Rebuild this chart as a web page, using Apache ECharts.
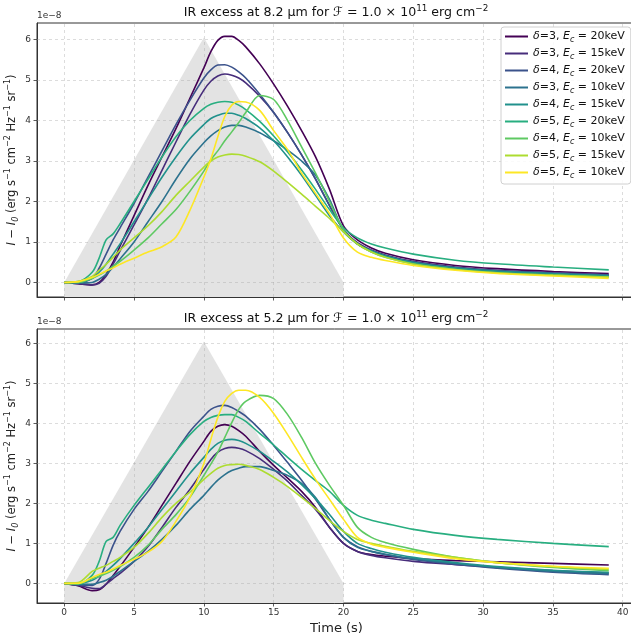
<!DOCTYPE html>
<html><head><meta charset="utf-8">
<script src="https://cdn.jsdelivr.net/npm/echarts@6/dist/echarts.min.js"></script>
<style>html,body{margin:0;padding:0;background:#fff}#c{width:631px;height:637px}</style>
</head><body><div id="c"></div>
<script>
// ---------- data ----------
const T = [0,1,2,2.5,3,3.5,4,5,6,7,8,9,10,10.5,11,11.5,12,12.5,13,14,15,16,17,18,19,20,21,22,23,25,28,31,35,39];
const deltas = [3,3,4,3,4,5,4,5,5];
const cutoffs = [20,15,20,10,15,20,10,15,10];
const xTicks = [0,5,10,15,20,25,30,35,40];
const yTicks = [0,1,2,3,4,5,6];
const triX = [0,10,20];
const triY = [0,6.05,0];

// 8.2 um (units of 1e-8)
const ir82_d3e20 = [0,-0.03,-0.06,0.0,0.2,0.5,0.9,1.65,2.4,3.1,3.8,4.55,5.3,5.7,5.98,6.08,6.08,5.98,5.82,5.4,4.9,4.35,3.75,3.1,2.3,1.4,1.05,0.85,0.72,0.56,0.42,0.34,0.27,0.22];
const ir82_d3e15 = [0,-0.03,-0.06,-0.02,0.15,0.45,0.78,1.42,2.07,2.77,3.47,4.15,4.75,4.97,5.1,5.15,5.12,5.05,4.93,4.6,4.2,3.7,3.15,2.55,1.9,1.3,0.98,0.8,0.68,0.52,0.38,0.3,0.24,0.19];
const ir82_d4e20 = [0,0.0,0.1,0.35,0.7,1.05,1.35,1.95,2.6,3.25,3.9,4.5,5.05,5.25,5.37,5.38,5.32,5.2,5.05,4.65,4.2,3.7,3.15,2.55,1.9,1.3,0.95,0.78,0.65,0.5,0.36,0.29,0.23,0.18];
const ir82_d3e10 = [0,-0.01,0.0,0.08,0.2,0.38,0.58,1.0,1.5,2.0,2.55,3.05,3.45,3.62,3.75,3.84,3.88,3.88,3.84,3.7,3.5,3.27,3.0,2.65,2.05,1.3,0.95,0.76,0.64,0.48,0.34,0.26,0.2,0.15];
const ir82_d4e15 = [0,0.0,0.1,0.25,0.45,0.7,0.95,1.5,2.05,2.6,3.1,3.55,3.9,4.05,4.13,4.18,4.18,4.13,4.05,3.82,3.5,3.1,2.65,2.15,1.65,1.25,0.95,0.78,0.66,0.5,0.36,0.28,0.22,0.17];
const ir82_d5e20 = [0,0.02,0.25,0.6,1.05,1.2,1.45,2.0,2.55,3.1,3.6,4.0,4.3,4.4,4.45,4.47,4.45,4.38,4.27,3.98,3.62,3.22,2.78,2.3,1.8,1.35,1.1,0.95,0.85,0.7,0.55,0.46,0.38,0.31];
const ir82_d4e10 = [0,0.0,0.1,0.18,0.28,0.4,0.52,0.8,1.1,1.45,1.8,2.25,2.75,3.03,3.25,3.5,3.72,3.95,4.2,4.62,4.52,4.0,3.35,2.7,2.0,1.3,0.95,0.75,0.62,0.46,0.32,0.24,0.18,0.13];
const ir82_d5e15 = [0,0.02,0.15,0.3,0.45,0.62,0.8,1.1,1.4,1.75,2.15,2.5,2.85,3.0,3.1,3.15,3.17,3.16,3.12,2.98,2.75,2.47,2.18,1.88,1.58,1.25,0.95,0.75,0.62,0.45,0.32,0.24,0.18,0.13];
const ir82_d5e10 = [0,0.02,0.12,0.2,0.28,0.36,0.45,0.6,0.75,0.88,1.12,1.78,2.6,3.05,3.6,4.1,4.38,4.47,4.46,4.25,3.75,3.28,2.7,2.2,1.7,1.1,0.75,0.62,0.54,0.42,0.3,0.22,0.16,0.1];

// 5.2 um (units of 1e-8)
const ir52_d3e20 = [0,-0.06,-0.18,-0.16,-0.02,0.2,0.42,0.9,1.4,1.95,2.5,3.05,3.55,3.8,3.93,3.97,3.93,3.82,3.68,3.3,2.95,2.63,2.3,1.9,1.4,1.0,0.8,0.72,0.68,0.62,0.57,0.54,0.5,0.46];
const ir52_d3e15 = [0,-0.05,-0.12,-0.13,-0.02,0.12,0.25,0.55,0.92,1.4,1.9,2.35,2.85,3.1,3.28,3.37,3.4,3.38,3.32,3.12,2.85,2.55,2.2,1.85,1.4,1.0,0.8,0.7,0.64,0.55,0.47,0.4,0.32,0.26];
const ir52_d4e20 = [0,-0.04,-0.05,0.1,0.5,0.95,1.3,1.85,2.3,2.8,3.3,3.8,4.18,4.35,4.43,4.45,4.4,4.3,4.18,3.85,3.45,3.02,2.58,2.1,1.6,1.15,0.92,0.8,0.72,0.6,0.48,0.38,0.28,0.22];
const ir52_d3e10 = [0,-0.02,-0.02,0.02,0.08,0.18,0.3,0.55,0.8,1.1,1.45,1.85,2.2,2.4,2.58,2.72,2.82,2.88,2.92,2.92,2.82,2.7,2.5,2.15,1.6,1.15,0.9,0.8,0.73,0.62,0.5,0.4,0.3,0.24];
const ir52_d4e15 = [0,0.0,0.08,0.18,0.3,0.45,0.62,1.0,1.4,1.85,2.3,2.75,3.15,3.35,3.5,3.58,3.6,3.57,3.5,3.3,3.05,2.78,2.47,2.12,1.72,1.3,1.0,0.87,0.78,0.65,0.52,0.42,0.33,0.28];
const ir52_d5e20 = [0,-0.02,0.2,0.55,1.05,1.15,1.45,1.95,2.4,2.85,3.3,3.72,4.05,4.15,4.2,4.22,4.22,4.15,4.05,3.75,3.46,3.15,2.85,2.57,2.3,1.95,1.7,1.58,1.5,1.35,1.2,1.1,1.0,0.92];
const ir52_d4e10 = [0,0.0,0.12,0.18,0.25,0.33,0.42,0.65,0.95,1.35,1.72,2.15,2.7,2.98,3.28,3.65,4.02,4.35,4.55,4.7,4.62,4.22,3.65,3.0,2.45,1.95,1.4,1.15,1.02,0.85,0.65,0.52,0.4,0.32];
const ir52_d5e15 = [0,0.02,0.3,0.38,0.45,0.55,0.65,0.9,1.25,1.65,2.0,2.28,2.6,2.75,2.88,2.95,2.97,2.98,2.95,2.85,2.65,2.42,2.15,1.87,1.57,1.3,1.1,1.0,0.93,0.8,0.65,0.52,0.42,0.35];
const ir52_d5e10 = [0,0.0,0.15,0.22,0.28,0.36,0.45,0.6,0.78,1.05,1.55,2.15,3.0,3.6,4.15,4.55,4.75,4.83,4.83,4.65,4.25,3.72,3.15,2.6,2.1,1.6,1.15,0.98,0.9,0.78,0.62,0.52,0.43,0.38];

const top82 = [ir82_d3e20,ir82_d3e15,ir82_d4e20,ir82_d3e10,ir82_d4e15,ir82_d5e20,ir82_d4e10,ir82_d5e15,ir82_d5e10];
const bot52 = [ir52_d3e20,ir52_d3e15,ir52_d4e20,ir52_d3e10,ir52_d4e15,ir52_d5e20,ir52_d4e10,ir52_d5e15,ir52_d5e10];

// ---------- styling ----------
const colors = ['#440154','#472d7b','#3b528b','#2c728e','#21918c','#28ae80','#5ec962','#addc30','#fde725'];
const FONT = 'DejaVu Sans';
const names = deltas.map((d,i)=>`δ=${d}, Ec = ${cutoffs[i]}keV`);
const pair = (xs, ys) => xs.map((x,i)=>[x, ys[i]]);

const grids = [
  {left:37, top:23, width:599, height:274},
  {left:37, top:329, width:599, height:274}
];
const yRanges = [[-0.36, 6.41],[-0.49, 6.36]];

function xAxis(gi){
  return {
    type:'value', gridIndex:gi, min:-1.95, max:40.95,
    axisLine:{show:true, onZero:false, lineStyle:{color:'#333', width:1}},
    axisTick:{show:true, customValues:xTicks, length:3.5, lineStyle:{color:'#333', width:0.8}},
    axisLabel:{show:gi===1, customValues:xTicks, margin:5, fontFamily:FONT, fontSize:9, color:'#333'},
    splitLine:{show:false},
    name: gi===1 ? 'Time (s)' : '', nameLocation:'middle', nameGap:19,
    nameTextStyle:{fontFamily:FONT, fontSize:13, color:'#222'}
  };
}
const ylabelRich = {
  i:{fontFamily:FONT, fontSize:11.5, fontStyle:'italic', color:'#222'},
  n:{fontFamily:FONT, fontSize:11.5, color:'#222'},
  sub:{fontFamily:FONT, fontSize:8, fontStyle:'italic', color:'#222', verticalAlign:'bottom', lineHeight:16},
  sup:{fontFamily:FONT, fontSize:8, color:'#222', verticalAlign:'top', lineHeight:16}
};
const ylabel = '{i|I}{n| − }{i|I}{sub|0}{n| (erg s}{sup|−1}{n| cm}{sup|−2}{n| Hz}{sup|−1}{n| sr}{sup|−1}{n|)}';
function yAxis(gi){
  return {
    type:'value', gridIndex:gi, min:yRanges[gi][0], max:yRanges[gi][1],
    axisLine:{show:true, onZero:false, lineStyle:{color:'#333', width:1}},
    axisTick:{show:true, customValues:yTicks, length:3.5, lineStyle:{color:'#333', width:0.8}},
    axisLabel:{show:true, customValues:yTicks, margin:6, fontFamily:FONT, fontSize:9, color:'#333'},
    splitLine:{show:false},
    name: ylabel, nameLocation:'middle', nameGap:17, nameRotate:90, nameMoveOverlap:false,
    nameTextStyle:{rich:ylabelRich}
  };
}

const gridLineStyle = {color:'rgba(170,170,170,0.5)', width:0.8, type:[3,3]};
function gridLines(){
  return [...xTicks.map(v=>({xAxis:v})), ...yTicks.map(v=>({yAxis:v}))];
}

const series = [];
[0,1].forEach(gi=>{
  series.push({
    type:'line', xAxisIndex:gi, yAxisIndex:gi, z:1, silent:true,
    data: pair(triX, triY), showSymbol:false, symbol:'none',
    lineStyle:{width:0, opacity:0},
    areaStyle:{color:'#e3e3e3', opacity:1, origin:'start'},
    markLine:{z:1.5, silent:true, symbol:['none','none'], label:{show:false}, lineStyle:gridLineStyle, data:gridLines(), animation:false}
  });
  const sets = gi===0 ? top82 : bot52;
  sets.forEach((ys,i)=>{
    series.push({
      type:'line', name:names[i], xAxisIndex:gi, yAxisIndex:gi, z:2,
      data: pair(T, ys), showSymbol:false, symbol:'none',
      smooth:0.3,
      lineStyle:{width:1.6, color:colors[i]}, itemStyle:{color:colors[i]}
    });
  });
});

const titleRich = {
  n:{fontFamily:FONT, fontSize:12.6, fontWeight:'normal', color:'#111'},
  s:{fontFamily:FONT, fontSize:8.8, fontWeight:'normal', color:'#111', verticalAlign:'top', lineHeight:17}
};
function titleText(w){
  return `{n|IR excess at ${w} μm for ℱ = 1.0 × 10}{s|11}{n| erg cm}{s|−2}`;
}

const chart = echarts.init(document.getElementById('c'), null, {renderer:'canvas'});
chart.setOption({
  animation:false,
  backgroundColor:'#fff',
  title:[
    {text:titleText('8.2'), left:336, top:4, textAlign:'center', padding:0, textStyle:{fontWeight:'normal', rich:titleRich}},
    {text:titleText('5.2'), left:336, top:310, textAlign:'center', padding:0, textStyle:{fontWeight:'normal', rich:titleRich}},
    {text:'1e−8', left:37, top:11, padding:0, textStyle:{fontFamily:FONT, fontSize:9, fontWeight:'normal', color:'#333'}},
    {text:'1e−8', left:37, top:317, padding:0, textStyle:{fontFamily:FONT, fontSize:9, fontWeight:'normal', color:'#333'}}
  ],
  grid: grids.map(g=>Object.assign({show:true, borderColor:'#333', borderWidth:1, backgroundColor:'transparent', outerBoundsMode:'none', containLabel:false}, g)),
  xAxis:[xAxis(0), xAxis(1)],
  yAxis:[yAxis(0), yAxis(1)],
  legend:{
    data:names, orient:'vertical', left:501, top:27,
    padding:[4,6,4,4], itemGap:4, itemWidth:23, itemHeight:2, icon:'rect',
    backgroundColor:'rgba(255,255,255,0.85)', borderColor:'#d0d0d0', borderWidth:1, borderRadius:3,
    formatter:(name)=>{
      const i = names.indexOf(name);
      return `{i|δ}{n|=${deltas[i]}, }{i|E}{sub|c}{n| = ${cutoffs[i]}keV}`;
    },
    textStyle:{
      rich:{
        i:{fontFamily:FONT, fontSize:11, fontStyle:'italic', color:'#111', lineHeight:15},
        n:{fontFamily:FONT, fontSize:11, color:'#111', lineHeight:15},
        sub:{fontFamily:FONT, fontSize:8, fontStyle:'italic', color:'#111', verticalAlign:'bottom', lineHeight:15}
      }
    }
  },
  series
});
</script></body></html>
